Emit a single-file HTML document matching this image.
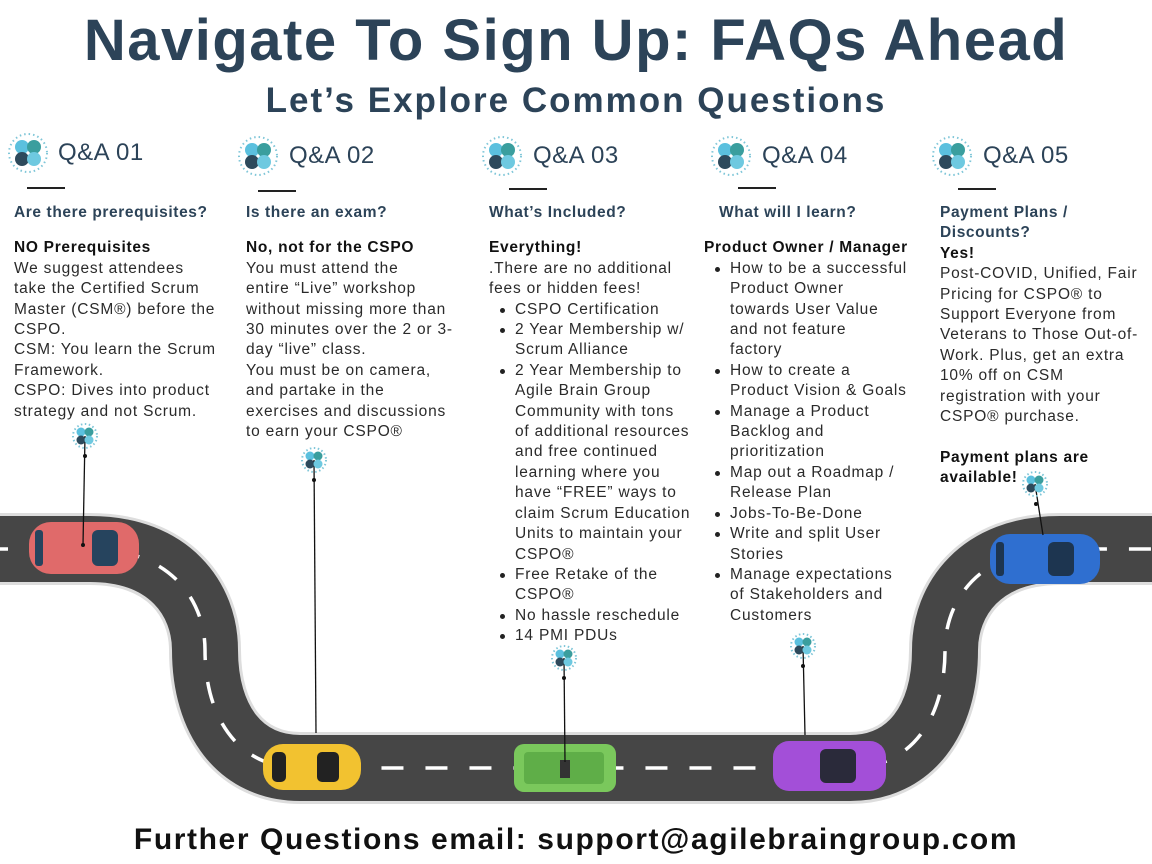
<!DOCTYPE html>
<html><head><meta charset="utf-8"><style>
body{margin:0;width:1152px;height:864px;background:#fff;position:relative;overflow:hidden;font-family:"Liberation Sans",sans-serif;color:#2a2a2a}
.t{position:absolute;left:0;width:1152px;text-align:center;font-weight:bold;color:#2c4358;white-space:nowrap}
.q{position:absolute;font-size:24px;color:#2c4358;letter-spacing:0.5px}
.ul{position:absolute;height:2px;width:38px;background:#222}
.col{position:absolute;top:203px;font-size:15.5px;line-height:20.4px;white-space:nowrap;letter-spacing:0.8px}
.h{font-weight:bold;color:#2c4358;letter-spacing:0.6px}
.hm{margin-bottom:15px}
.b{font-weight:bold;color:#111;letter-spacing:0.7px}
.li{position:relative;padding-left:26px}
.li::before{content:"";position:absolute;left:11px;top:8px;width:5px;height:5px;border-radius:50%;background:#222}
.c{padding-left:26px}
svg{position:absolute;left:0;top:0}
</style></head><body>
<svg width="1152" height="864">
<defs>
<g id="ic">
<circle cx="0" cy="0" r="19" fill="none" stroke="#7fc6d8" stroke-width="2" stroke-dasharray="1.5 3"/>
<ellipse cx="-6" cy="-6" rx="7" ry="7" fill="#5bc0de"/>
<ellipse cx="6" cy="-6" rx="7" ry="7" fill="#3a9e9e"/>
<ellipse cx="-6" cy="6" rx="7" ry="7" fill="#2d4a5c"/>
<ellipse cx="6" cy="6" rx="7" ry="7" fill="#6ec9e0"/>
</g>
<g id="ics">
<circle cx="0" cy="0" r="12" fill="none" stroke="#7fc6d8" stroke-width="2" stroke-dasharray="1.5 2.5"/>
<circle cx="-4" cy="-4" r="4.5" fill="#5bc0de"/><circle cx="4" cy="-4" r="4.5" fill="#3a9e9e"/>
<circle cx="-4" cy="4" r="4.5" fill="#2d4a5c"/><circle cx="4" cy="4" r="4.5" fill="#6ec9e0"/>
</g>
</defs>
<path d="M-10,549 L90,549 C170,549 205,600 205,650 C205,720 240,768 300,768 L850,768 C910,768 945,720 945,650 C945,600 980,549 1060,549 L1162,549" fill="none" stroke="#ddd" stroke-width="72"/>
<path d="M-10,549 L90,549 C170,549 205,600 205,650 C205,720 240,768 300,768 L850,768 C910,768 945,720 945,650 C945,600 980,549 1060,549 L1162,549" fill="none" stroke="#464646" stroke-width="66"/>
<path d="M-10,549 L90,549 C170,549 205,600 205,650 C205,720 240,768 300,768 L850,768 C910,768 945,720 945,650 C945,600 980,549 1060,549 L1162,549" fill="none" stroke="#fff" stroke-width="3.5" stroke-dasharray="22 22" stroke-dashoffset="4"/>
<rect x="29" y="522" width="110" height="52" rx="22" fill="#e06a6a"/><rect x="92" y="530" width="26" height="36" rx="6" fill="#26445e"/><rect x="35" y="530" width="8" height="36" rx="3" fill="#26445e"/>
<rect x="263" y="744" width="98" height="46" rx="20" fill="#f2c230"/><rect x="272" y="752" width="14" height="30" rx="5" fill="#222"/><rect x="317" y="752" width="22" height="30" rx="5" fill="#222"/>
<rect x="514" y="744" width="102" height="48" rx="10" fill="#7ac85c"/><rect x="524" y="752" width="80" height="32" rx="4" fill="#5fae48"/><rect x="560" y="760" width="10" height="18" fill="#333"/>
<rect x="773" y="741" width="113" height="50" rx="16" fill="#a34fd8"/><rect x="820" y="749" width="36" height="34" rx="6" fill="#2a2a3a"/>
<rect x="990" y="534" width="110" height="50" rx="20" fill="#2f6fd0"/><rect x="1048" y="542" width="26" height="34" rx="6" fill="#1d3550"/><rect x="996" y="542" width="8" height="34" rx="3" fill="#1d3550"/>
<g stroke="#111" stroke-width="1.3">
<line x1="85" y1="436" x2="83" y2="545"/><line x1="314" y1="460" x2="316" y2="733"/><line x1="564" y1="658" x2="565" y2="762"/><line x1="803" y1="646" x2="805" y2="735"/><line x1="1035" y1="484" x2="1043" y2="535"/>
</g>
<g fill="#111"><circle cx="85" cy="456" r="2"/><circle cx="314" cy="480" r="2"/><circle cx="564" cy="678" r="2"/><circle cx="803" cy="666" r="2"/><circle cx="1036" cy="504" r="2"/><circle cx="83" cy="545" r="2"/></g>
<use href="#ics" x="85" y="436"/><use href="#ics" x="314" y="460"/><use href="#ics" x="564" y="658"/><use href="#ics" x="803" y="646"/><use href="#ics" x="1035" y="484"/>
<use href="#ic" x="28" y="153"/><use href="#ic" x="258" y="156"/><use href="#ic" x="502" y="156"/><use href="#ic" x="731" y="156"/><use href="#ic" x="952" y="156"/>
</svg>
<div class="t" style="top:6px;font-size:58px;line-height:70px;letter-spacing:1.5px">Navigate To Sign Up: FAQs Ahead</div>
<div class="t" style="top:80px;font-size:35px;line-height:42px;letter-spacing:2px">Let’s Explore Common Questions</div>
<div class="q" style="left:58px;top:139px">Q&amp;A 01</div>
<div class="q" style="left:289px;top:142px">Q&amp;A 02</div>
<div class="q" style="left:533px;top:142px">Q&amp;A 03</div>
<div class="q" style="left:762px;top:142px">Q&amp;A 04</div>
<div class="q" style="left:983px;top:142px">Q&amp;A 05</div>
<div class="ul" style="left:27px;top:187px"></div><div class="ul" style="left:258px;top:190px"></div><div class="ul" style="left:509px;top:188px"></div><div class="ul" style="left:738px;top:187px"></div><div class="ul" style="left:958px;top:188px"></div>
<div class="col" style="left:14px"><div class="h hm">Are there prerequisites?</div><div class="b">NO Prerequisites</div>We suggest attendees<br>take the Certified Scrum<br>Master (CSM®) before the<br>CSPO.<br>CSM: You learn the Scrum<br>Framework.<br>CSPO: Dives into product<br>strategy and not Scrum.</div>
<div class="col" style="left:246px"><div class="h hm">Is there an exam?</div><div class="b">No, not for the CSPO</div>You must attend the<br>entire “Live” workshop<br>without missing more than<br>30 minutes over the 2 or 3-<br>day “live” class.<br>You must be on camera,<br>and partake in the<br>exercises and discussions<br>to earn your CSPO®</div>
<div class="col" style="left:489px"><div class="h hm">What’s Included?</div><div class="b">Everything!</div>.There are no additional<br>fees or hidden fees!
<div class="li">CSPO Certification</div><div class="li">2 Year Membership w/</div><div class="c">Scrum Alliance</div><div class="li">2 Year Membership to</div><div class="c">Agile Brain Group<br>Community with tons<br>of additional resources<br>and free continued<br>learning where you<br>have “FREE” ways to<br>claim Scrum Education<br>Units to maintain your<br>CSPO®</div><div class="li">Free Retake of the</div><div class="c">CSPO®</div><div class="li">No hassle reschedule</div><div class="li">14 PMI PDUs</div></div>
<div class="col" style="left:704px"><div class="h hm" style="padding-left:15px">What will I learn?</div><div class="b">Product Owner / Manager</div>
<div class="li">How to be a successful</div><div class="c">Product Owner<br>towards User Value<br>and not feature<br>factory</div><div class="li">How to create a</div><div class="c">Product Vision &amp; Goals</div><div class="li">Manage a Product</div><div class="c">Backlog and<br>prioritization</div><div class="li">Map out a Roadmap /</div><div class="c">Release Plan</div><div class="li">Jobs-To-Be-Done</div><div class="li">Write and split User</div><div class="c">Stories</div><div class="li">Manage expectations</div><div class="c">of Stakeholders and<br>Customers</div></div>
<div class="col" style="left:940px"><div class="h">Payment Plans /<br>Discounts?</div><div class="b">Yes!</div>Post-COVID, Unified, Fair<br>Pricing for CSPO® to<br>Support Everyone from<br>Veterans to Those Out-of-<br>Work. Plus, get an extra<br>10% off on CSM<br>registration with your<br>CSPO® purchase.<br><br><div class="b">Payment plans are<br>available!</div></div>
<div class="t" style="top:822px;font-size:30px;color:#111;line-height:36px;letter-spacing:1.6px">Further Questions email: support@agilebraingroup.com</div>
</body></html>
